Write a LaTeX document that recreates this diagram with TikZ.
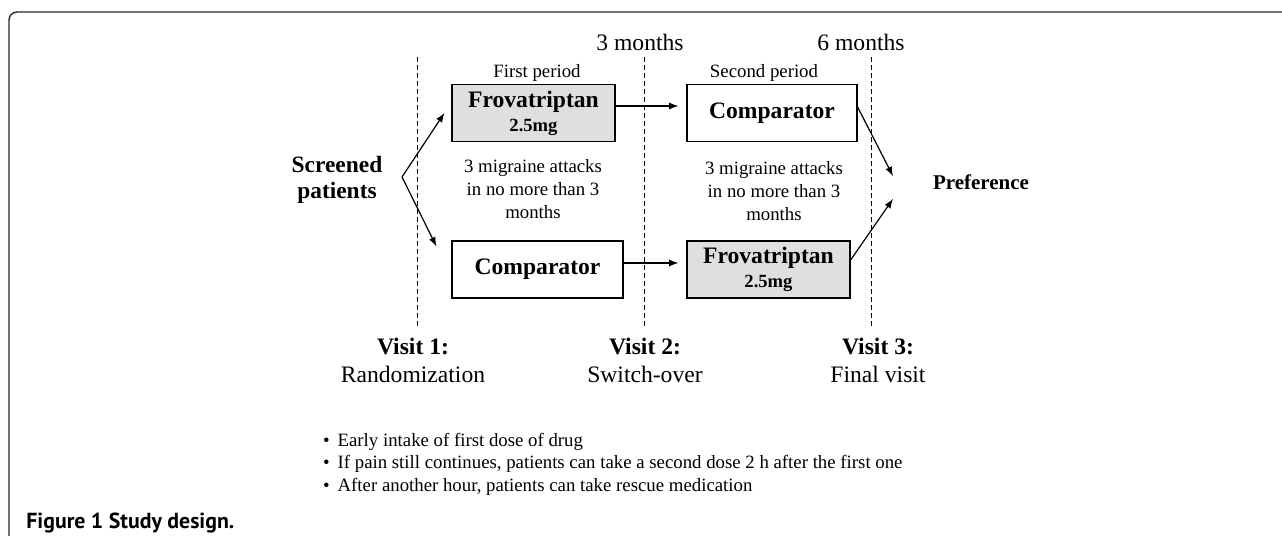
\documentclass[tikz,border=0pt]{standalone}
\usepackage{fontspec}
\setmainfont{Liberation Serif}
\newfontfamily\capfont{PT Sans}
\usetikzlibrary{
    arrows,
    positioning
}

\begin{document}
\begin{tikzpicture}[x=0.5pt, y=-0.5pt,
    box/.style={draw, line width=0.6pt, minimum height=28.5pt, inner sep=0pt, align=center,
        font=\fontsize{11.8}{12}\selectfont\bfseries},
    drug/.style={box, fill=gray!25},
    ctrl/.style={box, fill=white},
    arr/.style={->, >=latex, line width=0.6pt},
    tline/.style={line width=0.5pt, dash pattern=on 2.5pt off 1.5pt},
    small/.style={font=\fontsize{9.4}{11.5}\selectfont, align=center},
    big/.style={font=\fontsize{11.8}{14}\selectfont, align=center}]
    \useasboundingbox (0,0) rectangle (1282,536);
    % frame
    \draw[line width=0.7pt, black!85, rounded corners=4pt] (1290,12) -- (9,12) -- (9,545);
    % time lines
    \draw[tline] (417,57) -- (417,327);
    \draw[tline] (644,57) -- (644,327);
    \draw[tline] (871,57) -- (871,327);
    \node[big] (m3) at (640,42) {3 months};
    \node[big] (m6) at (861,42) {6 months};
    \node[small] (per1) at (537,73) {First period};
    \node[small] (per2) at (764,73) {Second period};
    % treatments
    \node[drug, minimum width=81.5pt] (frovA) at (533.5,113) {Frovatriptan\\{\fontsize{9.3}{11}\selectfont 2.5mg}};
    \node[ctrl, minimum width=85.5pt] (cmpA) at (537.5,269.5) {Comparator};
    \node[ctrl, minimum width=85pt] (cmpB) at (772,113) {Comparator};
    \node[drug, minimum width=81.5pt] (frovB) at (768.5,269.5) {Frovatriptan\\{\fontsize{9.3}{11}\selectfont 2.5mg}};
    \node[small] (att1) at (533,189) {3 migraine attacks\\in no more than 3\\months};
    \node[small] (att2) at (774,191) {3 migraine attacks\\in no more than 3\\months};
    \node[big, font=\fontsize{11.7}{13}\selectfont\bfseries] (screen) at (337,180) {Screened\\patients};
    \node[font=\fontsize{10.5}{12}\selectfont\bfseries] (pref) at (981,182) {Preference};
    \coordinate (split) at (402,177);
    \draw[arr] (split) -- ([xshift=-3.5pt]frovA.west);
    \draw[arr] (split) -- ([xshift=-7.5pt,yshift=-3pt]cmpA.north west);
    \draw[arr, shorten >=4pt] ([yshift=3.5pt]frovA.east) -- ([yshift=3.5pt]cmpB.west);
    \draw[arr, shorten >=4pt] ([yshift=3.25pt]cmpA.east) -- ([yshift=3.25pt]frovB.west);
    \draw[arr] ([yshift=3pt]cmpB.east) -- ([xshift=-16.5pt,yshift=3pt]pref.west);
    \draw[arr] ([yshift=4.75pt]frovB.east) -- ([xshift=-16.5pt,yshift=-8.5pt]pref.west);
    % visits
    \node[big] (v1) at (413,360) {\textbf{Visit 1:}\\Randomization};
    \node[big] (v2) at (645,360) {\textbf{Visit 2:}\\Switch-over};
    \node[big] (v3) at (878,360) {\textbf{Visit 3:}\\Final visit};
    \node[small, align=left, anchor=west, font=\fontsize{9.4}{11.25}\selectfont] (notes) at (316,464)
        {\textbullet\hspace{4pt}Early intake of first dose of drug\\
         \textbullet\hspace{4pt}If pain still continues, patients can take a second dose 2 h after the first one\\
         \textbullet\hspace{4pt}After another hour, patients can take rescue medication};
    \node[anchor=west, inner sep=0pt, font=\capfont\fontsize{10.9}{12}\selectfont\bfseries] (cap) at (26,523) {Figure 1 Study design.};
\end{tikzpicture}
\end{document}
